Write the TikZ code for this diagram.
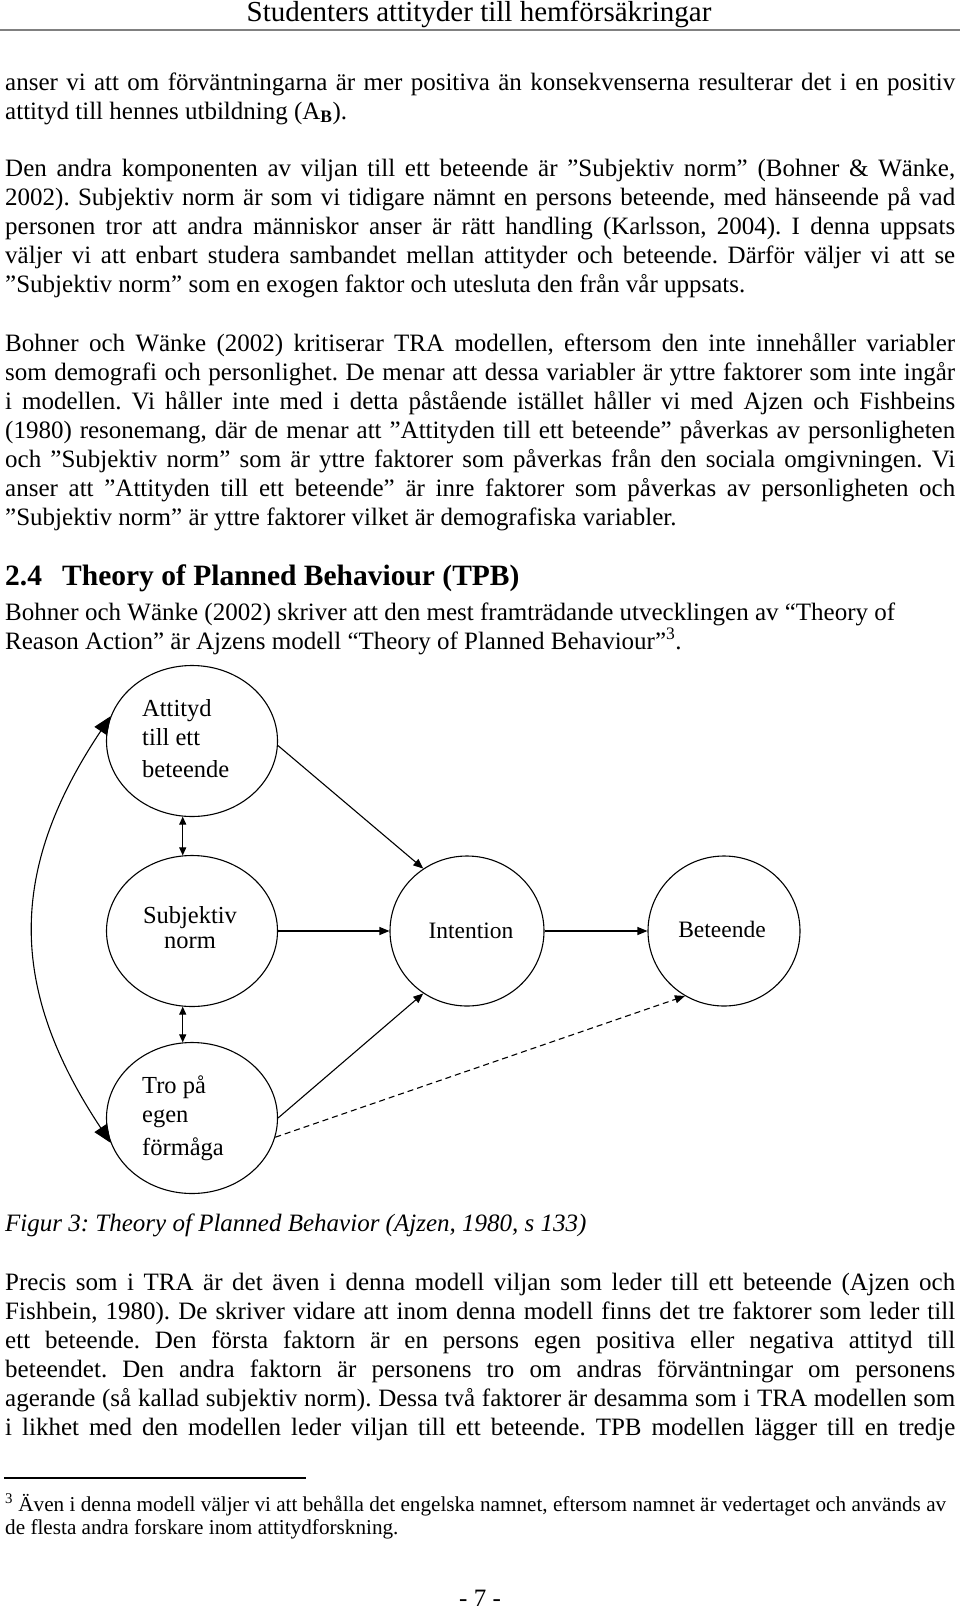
\documentclass[tikz,border=0pt]{standalone}
\usepackage{fontspec}
\setmainfont{Liberation Serif}
\usetikzlibrary{arrows.meta,shapes.geometric}
\newcommand\justline[1]{\makebox[950pt][s]{#1}}
\frenchspacing
\begin{document}
\frenchspacing
\begin{tikzpicture}[x=1pt,y=-1pt,
  txt/.style={inner sep=0pt, anchor=base west, font=\fontsize{25}{29}\selectfont},
  fn/.style={inner sep=0pt, anchor=base west, font=\fontsize{21.2}{24}\selectfont},
  ell/.style={draw, ellipse, line width=1.1pt, minimum width=171pt, minimum height=151pt, inner sep=0pt},
  lbl/.style={inner sep=0pt, anchor=base west, font=\fontsize{24.5}{28}\selectfont},
  lblc/.style={lbl, anchor=base},
  arr/.style={-{Triangle[length=10pt,width=8pt]}, line width=1.1pt},
  dbl/.style={{Triangle[length=8pt,width=7pt]}-{Triangle[length=8pt,width=7pt]}, line width=1.1pt},
  bigarr/.style={{Triangle[length=18pt,width=15pt]}-{Triangle[length=18pt,width=15pt]}, line width=1.1pt},
  dsh/.style={arr, dash pattern=on 6pt off 4pt}
]
\useasboundingbox (0,0) rectangle (960,1609);
\fill[white] (0,0) rectangle (960,1609);

% header
\node[inner sep=0pt, anchor=base, font=\fontsize{29}{30}\selectfont] (hdr) at (479,21) {Studenters attityder till hemförsäkringar};
\coordinate (rl) at (0,30);
\coordinate (rr) at (960,30);
\draw[gray, line width=1.6pt] (rl) -- (rr);

% paragraph 1
\node[txt] (p1a) at (5,90) {\justline{anser vi att om förväntningarna är mer positiva än konsekvenserna resulterar det i en positiv}};
\node[txt] (p1b) at (5,119) {attityd till hennes utbildning (A\textsubscript{\textbf{B}}).};

% paragraph 2
\node[txt] (p2a) at (5,176) {\justline{Den andra komponenten av viljan till ett beteende är ”Subjektiv norm” (Bohner \& Wänke,}};
\node[txt] (p2b) at (5,205) {\justline{2002). Subjektiv norm är som vi tidigare nämnt en persons beteende, med hänseende på vad}};
\node[txt] (p2c) at (5,234) {\justline{personen tror att andra människor anser är rätt handling (Karlsson, 2004). I denna uppsats}};
\node[txt] (p2d) at (5,263) {\justline{väljer vi att enbart studera sambandet mellan attityder och beteende. Därför väljer vi att se}};
\node[txt] (p2e) at (5,292) {”Subjektiv norm” som en exogen faktor och utesluta den från vår uppsats.};

% paragraph 3
\node[txt] (p3a) at (5,351) {\justline{Bohner och Wänke (2002) kritiserar TRA modellen, eftersom den inte innehåller variabler}};
\node[txt] (p3b) at (5,380) {\justline{som demografi och personlighet. De menar att dessa variabler är yttre faktorer som inte ingår}};
\node[txt] (p3c) at (5,409) {\justline{i modellen. Vi håller inte med i detta påstående istället håller vi med Ajzen och Fishbeins}};
\node[txt] (p3d) at (5,438) {\justline{(1980) resonemang, där de menar att ”Attityden till ett beteende” påverkas av personligheten}};
\node[txt] (p3e) at (5,467) {\justline{och ”Subjektiv norm” som är yttre faktorer som påverkas från den sociala omgivningen. Vi}};
\node[txt] (p3f) at (5,496) {\justline{anser att ”Attityden till ett beteende” är inre faktorer som påverkas av personligheten och}};
\node[txt] (p3g) at (5,525) {”Subjektiv norm” är yttre faktorer vilket är demografiska variabler.};

% heading
\node[inner sep=0pt, anchor=base west, font=\fontsize{29.5}{33}\selectfont\bfseries] (h24) at (5,585) {2.4};
\node[inner sep=0pt, anchor=base west, font=\fontsize{29.5}{33}\selectfont\bfseries] (htpb) at (62,585) {Theory of Planned Behaviour (TPB)};

% paragraph 4
\node[txt] (p4a) at (5,620) {Bohner och Wänke (2002) skriver att den mest framträdande utvecklingen av “Theory of};
\node[txt] (p4b) at (5,649) {Reason Action” är Ajzens modell “Theory of Planned Behaviour”\textsuperscript{3}.};

% diagram
\node[ell] (att) at (192,741) {};
\node[ell] (sn) at (192,931) {};
\node[ell] (tro) at (192,1118) {};
\node[ell, minimum width=154pt, minimum height=150pt] (int) at (467,931) {};
\node[ell, minimum width=152pt, minimum height=150pt] (bet) at (724,931) {};

\node[lbl] (att1) at (142,716) {Attityd};
\node[lbl] (att2) at (142,745) {till ett};
\node[lbl] (att3) at (142,777) {beteende};
\node[lblc] (sn1) at (190,923) {Subjektiv};
\node[lblc] (sn2) at (190,948) {norm};
\node[lbl] (tro1) at (142,1093) {Tro på};
\node[lbl] (tro2) at (142,1122) {egen};
\node[lbl] (tro3) at (142,1155) {förmåga};
\node[lblc, font=\fontsize{23.5}{28}\selectfont] (intl) at (471,938) {Intention};
\node[lblc, font=\fontsize{23.5}{28}\selectfont] (betl) at (722,937) {Beteende};

\draw[arr] (att.-3) -- (int.125);
\draw[arr] (sn.east) -- (int.west);
\draw[arr] (tro.0) -- (int.235);
\draw[arr] (int.east) -- (bet.west);
\draw[dsh] (tro.-13) -- (bet.239);
\draw[dbl] (att.263) -- (sn.97);
\draw[dbl] (sn.263) -- (tro.97);
\draw[bigarr] (att.163) .. controls (8,870) and (8,988) .. (tro.197);

% caption
\node[txt, font=\fontsize{25}{29}\selectfont\itshape] (cap) at (5,1231) {Figur 3: Theory of Planned Behavior (Ajzen, 1980, s 133)};

% paragraph 5
\node[txt] (p5a) at (5,1290) {\justline{Precis som i TRA är det även i denna modell viljan som leder till ett beteende (Ajzen och}};
\node[txt] (p5b) at (5,1319) {\justline{Fishbein, 1980). De skriver vidare att inom denna modell finns det tre faktorer som leder till}};
\node[txt] (p5c) at (5,1348) {\justline{ett beteende. Den första faktorn är en persons egen positiva eller negativa attityd till}};
\node[txt] (p5d) at (5,1377) {\justline{beteendet. Den andra faktorn är personens tro om andras förväntningar om personens}};
\node[txt] (p5e) at (5,1406) {\justline{agerande (så kallad subjektiv norm). Dessa två faktorer är desamma som i TRA modellen som}};
\node[txt] (p5f) at (5,1435) {\justline{i likhet med den modellen leder viljan till ett beteende. TPB modellen lägger till en tredje}};

% footnote
\coordinate (fl) at (4,1478);
\coordinate (fr) at (306,1478);
\draw[line width=1.2pt] (fl) -- (fr);
\node[fn] (fn1) at (5,1511) {\textsuperscript{3} Även i denna modell väljer vi att behålla det engelska namnet, eftersom namnet är vedertaget och används av};
\node[fn] (fn2) at (5,1534) {de flesta andra forskare inom attitydforskning.};

% page number
\node[inner sep=0pt, anchor=base, font=\fontsize{25}{29}\selectfont] (pg) at (480,1606) {- 7 -};
\end{tikzpicture}
\end{document}
